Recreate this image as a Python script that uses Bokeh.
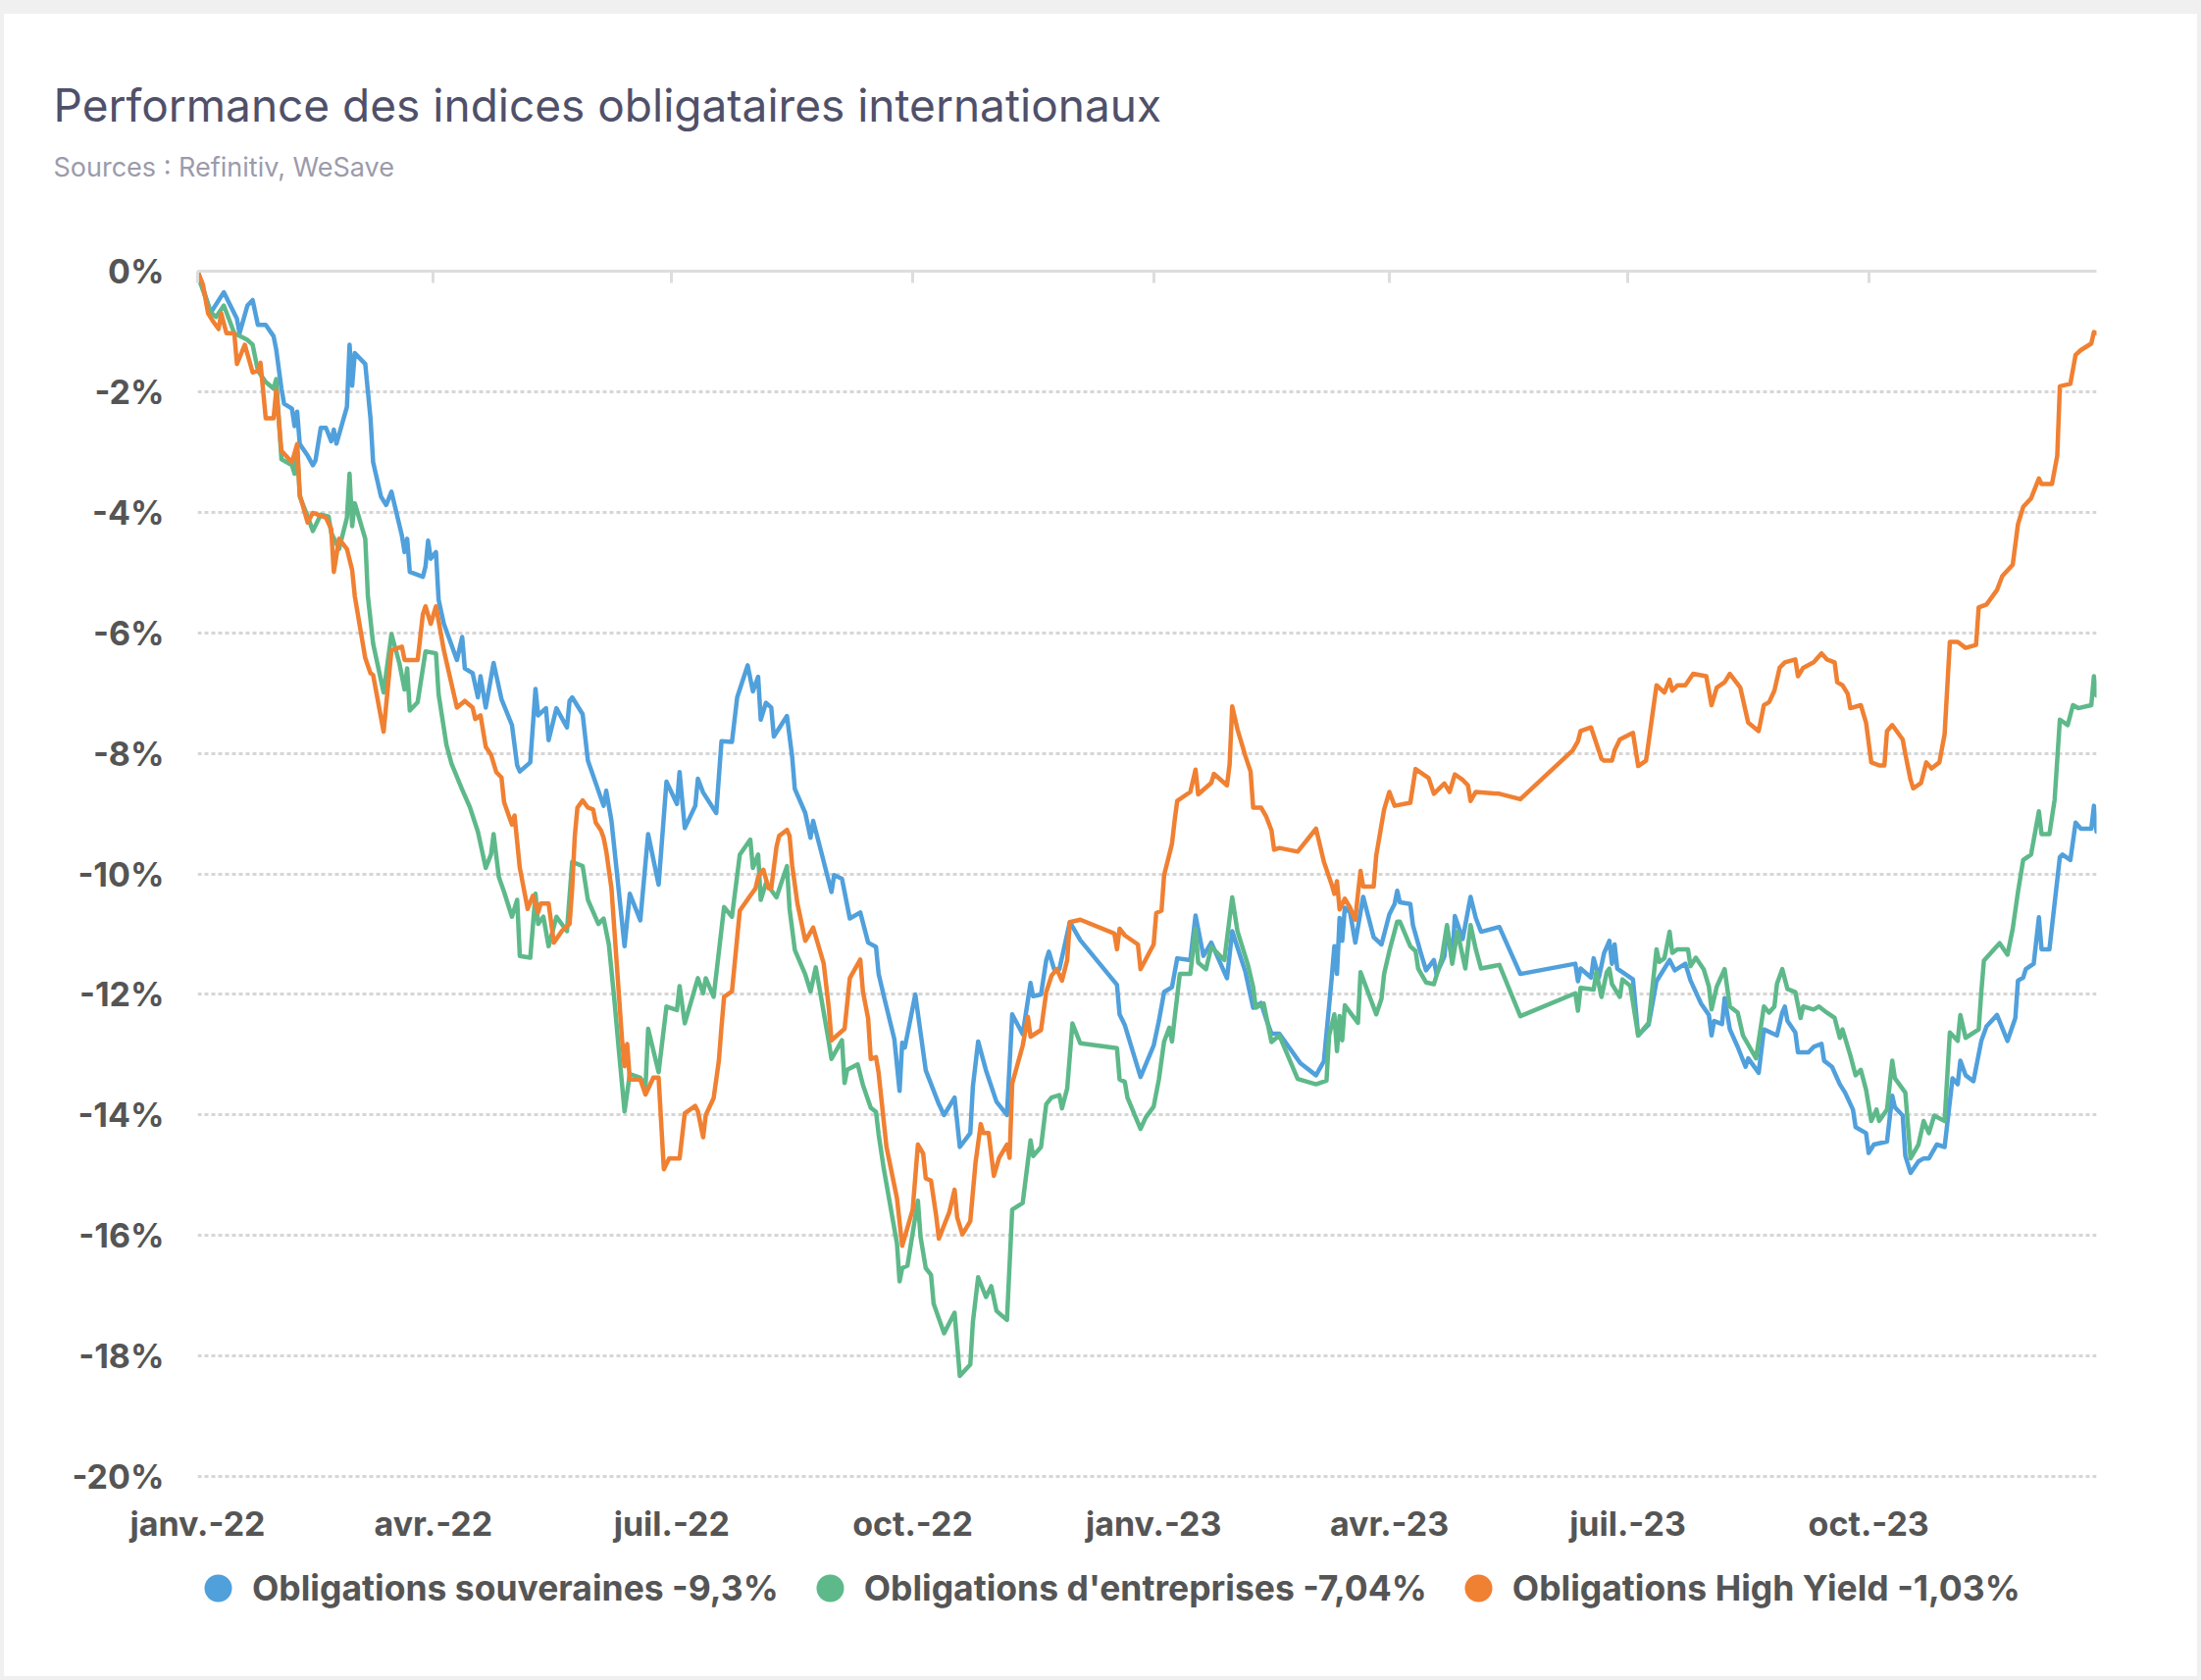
import pandas as pd
from bokeh.plotting import figure
from bokeh.layouts import column
from bokeh.models import (Range1d, FixedTicker, CustomJSTickFormatter, PrintfTickFormatter,
                          LinearAxis, Legend, LegendItem, Title)
from bokeh.embed import file_html
from bokeh.resources import INLINE

TITLE = "Performance des indices obligataires internationaux"
SUBTITLE = "Sources : Refinitiv, WeSave"
START = "2022-01-01"
END = "2023-12-27"

SERIES_NAMES = ["Obligations souveraines -9,3%",
                "Obligations d'entreprises -7,04%",
                "Obligations High Yield -1,03%"]
SERIES_COLORS = ["#50a0dc", "#5eb98a", "#f08032"]

TICK_DATES = ["2022-01-01", "2022-04-01", "2022-07-01", "2022-10-01",
              "2023-01-01", "2023-04-01", "2023-07-01", "2023-10-01"]
TICK_LABELS = ["janv.-22", "avr.-22", "juil.-22", "oct.-22",
               "janv.-23", "avr.-23", "juil.-23", "oct.-23"]
Y_TICKS = [0, -2, -4, -6, -8, -10, -12, -14, -16, -18, -20]

# days since START / value in %
souv_day = [
    0, 5, 10, 15, 16, 19, 21, 23, 26, 29,
    30, 32, 33, 36, 37, 38, 39, 42, 44, 45,
    47, 49, 51, 52, 53, 57, 58, 59, 60, 64,
    66, 67, 70, 72, 74, 78, 79, 80, 81, 86,
    87, 88, 89, 91, 92, 94, 99, 101, 102, 105,
    107, 108, 110, 113, 116, 120, 122, 123, 127, 129,
    130, 133, 134, 137, 141, 142, 143, 147, 149, 155,
    156, 158, 163, 165, 169, 172, 176, 179, 183, 184,
    186, 190, 191, 193, 198, 200, 204, 206, 210, 212,
    214, 215, 217, 219, 220, 225, 227, 228, 232, 234,
    235, 238, 242, 243, 246, 249, 253, 256, 259, 260,
    262, 266, 268, 269, 270, 274, 276, 278, 283, 285,
    289, 291, 295, 296, 298, 301, 305, 309, 311, 315,
    318, 319, 322, 324, 325, 327, 329, 333, 337, 351,
    352, 354, 360, 365, 367, 369, 372, 374, 379, 381,
    384, 387, 393, 395, 400, 403, 406, 408, 410, 413,
    421, 427, 430, 433, 434, 435, 436, 437, 438, 440,
    442, 445, 449, 452, 455, 457, 458, 459, 463, 464,
    467, 469, 472, 473, 476, 477, 479, 480, 483, 486,
    488, 490, 497, 505, 526, 527, 528, 532, 533, 535,
    537, 539, 540, 541, 542, 548, 550, 554, 557, 561,
    562, 564, 568, 570, 574, 577, 578, 579, 582, 583,
    585, 588, 591, 592, 596, 598, 603, 605, 606, 607,
    610, 611, 615, 617, 620, 621, 624, 627, 629, 632,
    633, 637, 638, 640, 645, 647, 648, 651, 652, 654,
    657, 659, 661, 664, 667, 670, 672, 673, 675, 678,
    681, 683, 687, 691, 694, 695, 697, 698, 701, 703,
    704, 707, 708, 711, 712, 715, 717, 719, 723, 724,
    725]
souv_val = [
    0, -0.69, -0.35, -0.79, -1.03, -0.57, -0.48, -0.89, -0.89, -1.08,
    -1.30, -1.95, -2.20, -2.28, -2.57, -2.33, -2.87, -3.06, -3.22, -3.14,
    -2.60, -2.60, -2.82, -2.63, -2.86, -2.25, -1.22, -1.90, -1.36, -1.54,
    -2.44, -3.17, -3.74, -3.88, -3.66, -4.39, -4.66, -4.44, -4.99, -5.07,
    -4.90, -4.47, -4.77, -4.66, -5.45, -5.85, -6.45, -6.07, -6.59, -6.67,
    -7.07, -6.72, -7.24, -6.50, -7.10, -7.53, -8.20, -8.30, -8.15, -6.93,
    -7.37, -7.25, -7.78, -7.25, -7.57, -7.13, -7.07, -7.35, -8.12, -8.87,
    -8.62, -9.12, -11.20, -10.33, -10.77, -9.34, -10.18, -8.47, -8.84, -8.31,
    -9.24, -8.87, -8.42, -8.65, -8.99, -7.80, -7.81, -7.07, -6.54, -6.97,
    -6.73, -7.44, -7.16, -7.24, -7.72, -7.38, -8.06, -8.59, -8.99, -9.40,
    -9.12, -9.62, -10.30, -10.02, -10.08, -10.74, -10.64, -11.14, -11.21, -11.66,
    -12.03, -12.74, -13.60, -12.80, -12.88, -12.00, -12.63, -13.26, -13.82, -14.00,
    -13.71, -14.53, -14.30, -13.52, -12.78, -13.26, -13.78, -14.00, -12.33, -12.66,
    -11.81, -12.03, -12.00, -11.43, -11.29, -11.58, -11.58, -10.80, -11.10, -11.84,
    -12.33, -12.51, -13.37, -12.85, -12.44, -11.96, -11.88, -11.40, -11.43, -10.69,
    -11.36, -11.14, -11.73, -10.95, -11.62, -12.22, -12.14, -12.41, -12.65, -12.65,
    -13.14, -13.34, -13.11, -11.72, -11.20, -11.66, -10.73, -11.11, -10.56, -10.64,
    -11.14, -10.38, -11.05, -11.17, -10.67, -10.50, -10.28, -10.47, -10.50, -10.85,
    -11.31, -11.60, -11.43, -11.66, -11.37, -10.88, -11.43, -10.70, -11.08, -10.38,
    -10.73, -10.96, -10.88, -11.66, -11.49, -11.78, -11.57, -11.72, -11.40, -11.72,
    -11.31, -11.11, -11.49, -11.17, -11.57, -11.75, -12.68, -12.50, -11.78, -11.50,
    -11.43, -11.60, -11.49, -11.77, -12.15, -12.34, -12.68, -12.44, -12.49, -12.06,
    -12.58, -12.87, -13.20, -13.06, -13.30, -12.58, -12.68, -12.30, -12.20, -12.44,
    -12.63, -12.96, -12.96, -12.87, -12.82, -13.10, -13.20, -13.49, -13.63, -13.91,
    -14.20, -14.30, -14.63, -14.49, -14.44, -13.68, -13.87, -14.01, -14.68, -14.96,
    -14.77, -14.72, -14.72, -14.49, -14.53, -13.39, -13.49, -13.10, -13.34, -13.44,
    -12.77, -12.53, -12.34, -12.77, -12.39, -11.77, -11.72, -11.58, -11.49, -10.72,
    -11.25, -11.25, -10.87, -9.72, -9.68, -9.77, -9.15, -9.25, -9.25, -8.87,
    -9.30]

corp_day = [
    0, 1, 5, 7, 10, 14, 19, 21, 23, 26,
    29, 30, 32, 36, 37, 38, 39, 42, 44, 47,
    50, 51, 54, 57, 58, 59, 60, 64, 65, 67,
    71, 74, 77, 79, 80, 81, 84, 87, 91, 92,
    95, 97, 101, 104, 107, 110, 112, 113, 115, 117,
    120, 122, 123, 127, 129, 130, 132, 134, 137, 141,
    143, 147, 149, 153, 155, 157, 159, 161, 163, 165,
    169, 171, 172, 176, 179, 183, 184, 186, 191, 193,
    194, 197, 201, 204, 207, 211, 212, 214, 215, 217,
    221, 225, 226, 228, 232, 234, 236, 238, 241, 242,
    246, 247, 248, 252, 254, 257, 259, 260, 262, 267,
    268, 269, 271, 275, 276, 278, 280, 281, 285, 289,
    290, 291, 295, 296, 298, 301, 303, 305, 309, 311,
    315, 318, 319, 322, 324, 326, 329, 330, 332, 334,
    337, 351, 352, 354, 355, 360, 362, 365, 367, 369,
    371, 372, 373, 375, 379, 381, 382, 385, 387, 392,
    395, 397, 401, 403, 404, 407, 410, 413, 420, 427,
    431, 432, 434, 435, 436, 437, 438, 443, 444, 450,
    452, 453, 455, 458, 459, 463, 465, 466, 469, 472,
    475, 477, 479, 481, 484, 486, 488, 490, 497, 505,
    526, 527, 528, 533, 534, 536, 538, 539, 540, 543,
    544, 547, 550, 554, 557, 558, 560, 562, 563, 565,
    569, 570, 572, 575, 577, 578, 580, 583, 585, 588,
    590, 595, 598, 600, 602, 603, 605, 607, 610, 612,
    613, 617, 619, 622, 625, 627, 628, 631, 633, 635,
    637, 639, 641, 642, 645, 647, 648, 652, 654, 657,
    659, 661, 663, 667, 669, 672, 673, 675, 680, 681,
    682, 688, 691, 693, 695, 697, 700, 703, 704, 707,
    709, 711, 714, 716, 718, 723, 724, 725]
corp_val = [
    0, -0.19, -0.68, -0.76, -0.57, -1.03, -1.14, -1.22, -1.65, -1.84,
    -1.95, -1.79, -3.12, -3.22, -3.36, -2.93, -3.74, -4.07, -4.31, -4.04,
    -4.07, -4.34, -4.61, -4.09, -3.36, -4.23, -3.85, -4.44, -5.39, -6.18,
    -6.99, -6.02, -6.50, -6.94, -6.59, -7.29, -7.15, -6.31, -6.34, -7.02,
    -7.86, -8.18, -8.60, -8.90, -9.30, -9.90, -9.68, -9.34, -10.05, -10.30,
    -10.71, -10.43, -11.36, -11.39, -10.33, -10.83, -10.71, -11.20, -10.71, -10.95,
    -9.80, -9.87, -10.43, -10.83, -10.74, -11.17, -12.04, -13.01, -13.94, -13.32,
    -13.38, -13.53, -12.57, -13.29, -12.20, -12.26, -11.86, -12.48, -11.73, -11.98,
    -11.73, -12.04, -10.55, -10.71, -9.68, -9.43, -9.90, -9.68, -10.43, -10.15,
    -10.39, -9.87, -10.58, -11.26, -11.67, -11.95, -11.55, -12.04, -12.79, -13.07,
    -12.76, -13.47, -13.25, -13.16, -13.50, -13.88, -13.95, -14.32, -14.90, -16.13,
    -16.76, -16.54, -16.50, -15.42, -16.02, -16.54, -16.65, -17.13, -17.62, -17.28,
    -17.80, -18.33, -18.14, -17.43, -16.69, -17.02, -16.84, -17.25, -17.40, -15.57,
    -15.46, -14.42, -14.68, -14.53, -13.82, -13.71, -13.67, -13.89, -13.56, -12.48,
    -12.81, -12.89, -13.41, -13.45, -13.71, -14.23, -14.04, -13.86, -13.41, -12.78,
    -12.55, -12.78, -12.40, -11.66, -11.66, -10.91, -11.47, -11.58, -11.21, -11.43,
    -10.39, -10.95, -11.51, -11.88, -12.22, -12.15, -12.79, -12.68, -13.40, -13.49,
    -13.43, -12.68, -12.33, -12.94, -12.36, -12.76, -12.18, -12.47, -11.63, -12.33,
    -12.07, -11.66, -11.28, -10.79, -10.79, -11.20, -11.28, -11.57, -11.80, -11.83,
    -11.40, -10.85, -11.49, -10.96, -11.57, -10.85, -11.25, -11.57, -11.51, -12.36,
    -11.98, -12.27, -11.89, -11.92, -11.63, -12.04, -11.63, -11.57, -11.83, -12.04,
    -11.75, -11.86, -12.68, -12.47, -11.25, -11.46, -11.40, -10.96, -11.31, -11.25,
    -11.25, -11.53, -11.39, -11.58, -11.87, -12.25, -11.87, -11.58, -12.20, -12.30,
    -12.68, -13.06, -12.20, -12.30, -12.20, -11.82, -11.58, -11.91, -11.96, -12.39,
    -12.20, -12.25, -12.20, -12.30, -12.39, -12.72, -12.58, -13.01, -13.34, -13.25,
    -13.58, -14.10, -13.91, -14.10, -13.91, -13.10, -13.39, -13.63, -14.72, -14.49,
    -14.10, -14.30, -14.01, -14.10, -12.63, -12.77, -12.34, -12.72, -12.58, -11.96,
    -11.44, -11.15, -11.34, -10.91, -10.30, -9.77, -9.68, -8.96, -9.34, -9.34,
    -8.77, -7.44, -7.53, -7.20, -7.25, -7.20, -6.72, -7.04]

hy_day = [
    0, 2, 4, 6, 8, 9, 11, 14, 15, 18,
    21, 23, 24, 26, 29, 30, 32, 36, 38, 39,
    42, 44, 49, 51, 52, 54, 57, 59, 60, 64,
    66, 67, 71, 74, 78, 79, 84, 86, 87, 89,
    91, 94, 96, 99, 102, 105, 106, 108, 110, 112,
    114, 116, 117, 120, 121, 123, 126, 128, 130, 131,
    134, 136, 139, 142, 143, 144, 145, 147, 149, 151,
    152, 154, 155, 156, 158, 160, 162, 163, 164, 165,
    169, 171, 174, 176, 178, 180, 184, 186, 190, 191,
    193, 194, 197, 199, 200, 201, 204, 207, 211, 213,
    214, 216, 218, 219, 221, 222, 225, 226, 227, 229,
    232, 235, 239, 241, 242, 247, 249, 253, 254, 256,
    257, 259, 260, 263, 267, 269, 273, 275, 277, 278,
    280, 282, 283, 287, 289, 290, 292, 295, 297, 299,
    300, 302, 304, 306, 309, 310, 311, 315, 317, 318,
    322, 324, 326, 328, 330, 332, 333, 337, 350, 351,
    352, 354, 359, 360, 365, 366, 368, 369, 372, 373,
    374, 379, 381, 382, 387, 388, 393, 394, 395, 397,
    400, 402, 403, 406, 408, 410, 411, 413, 420, 427,
    430, 433, 434, 435, 436, 438, 440, 442, 443, 444,
    445, 449, 450, 453, 455, 457, 463, 465, 470, 472,
    476, 478, 480, 483, 485, 486, 488, 497, 505, 525,
    527, 528, 532, 536, 537, 540, 541, 543, 547, 548,
    550, 553, 557, 560, 562, 563, 565, 568, 571, 576,
    578, 580, 583, 585, 589, 592, 596, 598, 600, 602,
    604, 606, 610, 611, 613, 617, 618, 620, 622, 625,
    626, 628, 630, 631, 635, 637, 639, 642, 644, 645,
    647, 651, 652, 654, 655, 658, 660, 662, 665, 667,
    669, 672, 675, 679, 680, 683, 687, 689, 693, 695,
    697, 700, 703, 704, 708, 710, 711, 715, 717, 719,
    723, 724, 725]
hy_val = [
    0, -0.22, -0.70, -0.84, -0.96, -0.70, -1.03, -1.03, -1.54, -1.22,
    -1.68, -1.65, -1.52, -2.44, -2.44, -1.98, -2.98, -3.17, -2.87, -3.71,
    -4.17, -4.01, -4.09, -4.28, -4.99, -4.44, -4.61, -4.96, -5.39, -6.42,
    -6.67, -6.70, -7.64, -6.29, -6.23, -6.45, -6.45, -5.69, -5.56, -5.85,
    -5.56, -6.29, -6.67, -7.24, -7.13, -7.24, -7.43, -7.37, -7.89, -8.02,
    -8.31, -8.40, -8.81, -9.18, -9.03, -9.90, -10.58, -10.36, -10.64, -10.49,
    -10.49, -11.14, -10.95, -10.83, -10.24, -9.37, -8.90, -8.78, -8.90, -8.93,
    -9.15, -9.28, -9.40, -9.62, -10.24, -11.48, -12.73, -13.19, -12.82, -13.41,
    -13.41, -13.66, -13.38, -13.38, -14.90, -14.72, -14.72, -13.97, -13.85, -13.94,
    -14.37, -14.00, -13.72, -13.10, -12.54, -12.04, -11.95, -10.61, -10.36, -10.24,
    -10.05, -9.93, -10.24, -10.24, -9.55, -9.37, -9.27, -9.37, -9.86, -10.49,
    -11.11, -10.89, -11.48, -12.23, -12.76, -12.57, -11.73, -11.42, -11.95, -12.40,
    -13.07, -13.04, -13.30, -14.53, -15.38, -16.17, -15.57, -14.49, -14.64, -15.05,
    -15.09, -15.68, -16.05, -15.61, -15.24, -15.70, -15.98, -15.76, -14.79, -14.15,
    -14.30, -14.30, -15.01, -14.71, -14.49, -14.71, -13.48, -12.85, -12.37, -12.70,
    -12.59, -11.96, -11.69, -11.58, -11.77, -11.43, -10.80, -10.76, -10.99, -11.25,
    -10.91, -11.02, -11.17, -11.58, -11.17, -10.65, -10.61, -10.02, -9.50, -9.12,
    -8.79, -8.64, -8.27, -8.68, -8.49, -8.34, -8.53, -8.19, -7.22, -7.60,
    -8.04, -8.30, -8.90, -8.90, -9.05, -9.28, -9.60, -9.57, -9.63, -9.25,
    -9.80, -10.18, -10.33, -10.12, -10.59, -10.41, -10.56, -10.76, -10.33, -9.95,
    -10.21, -10.21, -9.69, -8.93, -8.64, -8.87, -8.82, -8.26, -8.41, -8.67,
    -8.50, -8.64, -8.35, -8.44, -8.53, -8.79, -8.64, -8.67, -8.76, -7.95,
    -7.80, -7.63, -7.57, -8.09, -8.12, -8.12, -7.95, -7.77, -7.68, -7.66,
    -8.21, -8.12, -6.87, -6.99, -6.78, -6.96, -6.87, -6.87, -6.68, -6.72,
    -7.20, -6.91, -6.82, -6.68, -6.91, -7.49, -7.63, -7.20, -7.15, -6.96,
    -6.58, -6.49, -6.44, -6.72, -6.58, -6.49, -6.44, -6.34, -6.44, -6.49,
    -6.82, -6.87, -7.01, -7.25, -7.20, -7.49, -8.15, -8.20, -8.20, -7.63,
    -7.53, -7.77, -8.01, -8.44, -8.58, -8.49, -8.15, -8.25, -8.15, -7.68,
    -6.15, -6.15, -6.25, -6.20, -5.58, -5.53, -5.29, -5.06, -4.87, -4.20,
    -3.91, -3.77, -3.44, -3.53, -3.53, -3.06, -1.91, -1.87, -1.39, -1.31,
    -1.20, -1.01, -1.03]

SERIES = [(souv_day, souv_val), (corp_day, corp_val), (hy_day, hy_val)]
for d, v in SERIES:
    assert len(d) == len(v), (len(d), len(v))

start_ts = pd.Timestamp(START)


def to_dates(days):
    return start_ts + pd.to_timedelta(days, unit="D")


tick_ms = [pd.Timestamp(d).value / 1e6 for d in TICK_DATES]

# ---------------- main chart ----------------
p = figure(frame_width=1936, frame_height=1231, x_axis_type="datetime",
           x_range=Range1d(start=pd.Timestamp(START), end=pd.Timestamp(END)),
           y_range=Range1d(start=-20.03, end=0),
           output_backend="svg", toolbar_location=None,
           min_border_left=197, min_border_right=103,
           min_border_top=262, min_border_bottom=70)
p.outline_line_color = None
p.background_fill_color = "white"
p.border_fill_color = "white"
p.title.text = ""

p.xgrid.visible = False
p.ygrid.ticker = FixedTicker(ticks=Y_TICKS)
p.ygrid.grid_line_color = "#d6d6d6"
p.ygrid.grid_line_dash = "4 3"
p.ygrid.grid_line_width = 3

lab_font = dict(major_label_text_font="Inter", major_label_text_font_style="bold",
                major_label_text_font_size="34px", major_label_text_color="#555555")

ya = p.yaxis[0]
ya.ticker = FixedTicker(ticks=Y_TICKS)
ya.formatter = PrintfTickFormatter(format="%d%%")
ya.axis_line_color = None
ya.major_tick_line_color = None
ya.major_tick_out = 0
ya.major_tick_in = 0
ya.minor_tick_line_color = None
ya.minor_tick_out = 0
ya.major_label_standoff = 34
for k, v in lab_font.items():
    setattr(ya, k, v)

xa = p.xaxis[0]
xa.ticker = FixedTicker(ticks=tick_ms)
xa.formatter = CustomJSTickFormatter(args=dict(t=tick_ms, l=TICK_LABELS),
                                     code="const i = t.indexOf(tick); return i >= 0 ? l[i] : '';")
xa.axis_line_color = None
xa.major_tick_line_color = None
xa.major_tick_out = 0
xa.major_tick_in = 0
xa.minor_tick_line_color = None
xa.minor_tick_out = 0
xa.major_label_standoff = 25
for k, v in lab_font.items():
    setattr(xa, k, v)

top = LinearAxis(ticker=FixedTicker(ticks=tick_ms),
                 formatter=CustomJSTickFormatter(code="return '';"),
                 axis_line_color="#dddddd", axis_line_width=3,
                 major_tick_line_color="#dddddd", major_tick_line_width=3,
                 major_tick_in=12, major_tick_out=0, minor_tick_line_color=None,
                 minor_tick_out=0, major_label_standoff=0,
                 major_label_text_font_size="0px")
p.add_layout(top, "above")

# title / subtitle stacked above the frame (outward order)
p.add_layout(Title(text=" ", text_font_size="10px", standoff=77), "above")
p.add_layout(Title(text=SUBTITLE, text_font="Inter", text_font_size="27px",
                   text_font_style="normal", text_color="#9b9bab",
                   align="left", offset=-147, standoff=0), "above")
p.add_layout(Title(text=TITLE, text_font="Inter", text_font_size="46px",
                   text_font_style="normal", text_color="#50506a",
                   align="left", offset=-147, standoff=34), "above")

for (days, vals), color in zip(SERIES, SERIES_COLORS):
    p.line(x=to_dates(days), y=vals, line_color=color, line_width=4.5,
           line_join="round", line_cap="round")

# ---------------- legend strip ----------------
lg = figure(width=2236, height=132, x_axis_location=None, y_axis_location=None,
            x_axis_type="datetime",
            output_backend="svg", toolbar_location=None,
            min_border_left=158, min_border_right=0, min_border_top=0, min_border_bottom=0)
lg.outline_line_color = None
lg.background_fill_color = "white"
lg.border_fill_color = "white"
lg.grid.visible = False

items = []
for (days, vals), name, color in zip(SERIES, SERIES_NAMES, SERIES_COLORS):
    r = lg.scatter(x=to_dates(days), y=vals, marker="circle", size=0,
                   fill_color=color, line_color=color, line_width=0)
    items.append(LegendItem(label=name, renderers=[r]))
legend = Legend(items=items, orientation="horizontal", location=(-14, 55),
                glyph_width=70, glyph_height=70, label_standoff=0, spacing=17,
                padding=0, margin=0, border_line_color=None, background_fill_alpha=0,
                label_text_font="Inter", label_text_font_style="bold",
                label_text_font_size="35.5px", label_text_color="#555555")
lg.add_layout(legend, "center")

layout = column(p, lg, spacing=0)
layout.margin = (14, 0, 0, 4)
layout.styles = {"background-color": "white"}

html = file_html(layout, INLINE, title="Performance des indices obligataires internationaux")
html = html.replace("</head>", "<style>html, body { background-color: #f0f0f0 !important; }</style></head>", 1)
open("out.html", "w").write(html)
